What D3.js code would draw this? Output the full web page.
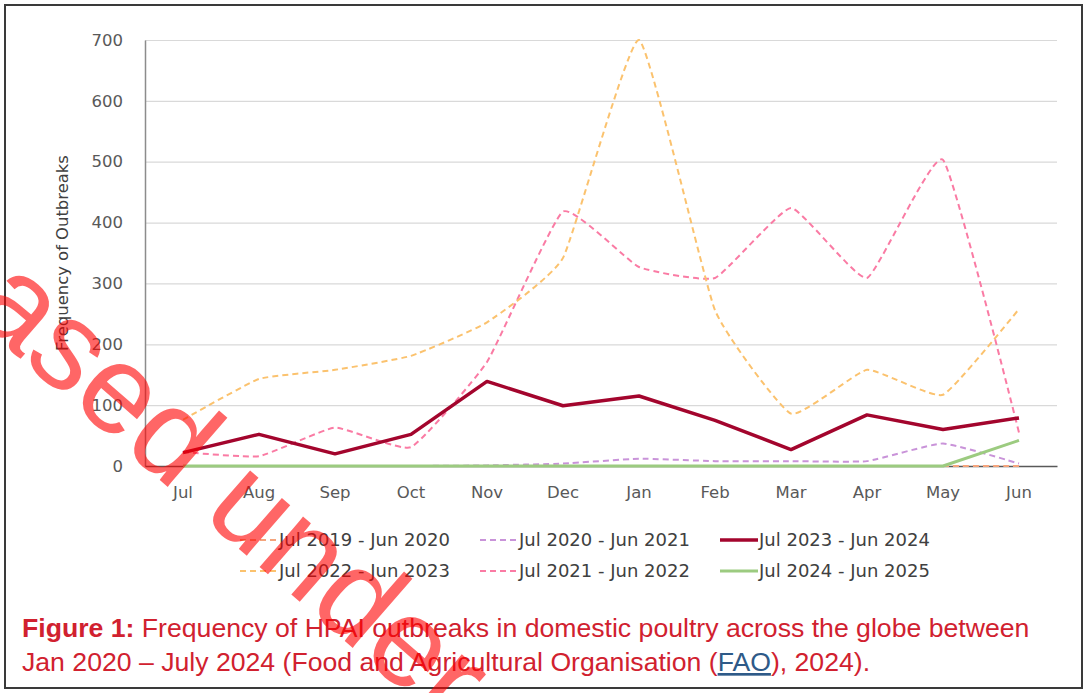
<!DOCTYPE html>
<html>
<head>
<meta charset="utf-8">
<script src="https://cdn.jsdelivr.net/npm/d3@7"></script>
<style>
  html, body { margin: 0; padding: 0; background: #fff; }
  svg { display: block; }
</style>
</head>
<body>
<svg id="chart" width="1086" height="693"></svg>
<script>
// ---------- data ----------
const months = ["Jul","Aug","Sep","Oct","Nov","Dec","Jan","Feb","Mar","Apr","May","Jun"];
const yTicks = [0,100,200,300,400,500,600,700];

const jul2019 = [0,0,0,0,0,0,0,0,0,0,0,0];
const jul2020 = [0,0,0,0,1,4,12,8,8,8,37,4];
const jul2021 = [23,16,63,31,171,418,327,309,424,309,503,55];
const jul2022 = [76,143,158,181,236,342,700,256,86,158,117,258];
const jul2023 = [22,52,20,52,139,99,115,75,27,84,60,79];
const jul2024 = [0,0,0,0,0,0,0,0,0,0,0,42];

const seriesNames = ["Jul 2019 - Jun 2020","Jul 2020 - Jun 2021","Jul 2021 - Jun 2022",
                     "Jul 2022 - Jun 2023","Jul 2023 - Jun 2024","Jul 2024 - Jun 2025"];

const yLabel = "Frequency of Outbreaks";
const captionBold = "Figure 1:";
const captionLine1 = " Frequency of HPAI outbreaks in domestic poultry across the globe between";
const captionLine2a = "Jan 2020 \u2013 July 2024 (Food and Agricultural Organisation (";
const captionLink = "FAO";
const captionLine2b = "), 2024).";
const watermark = "Released under the Official Information Act 1982";

(function(){
const styles = {
  "Jul 2019 - Jun 2020": {color:"#F4A47C", width:2, dash:"6,4", smooth:true},
  "Jul 2020 - Jun 2021": {color:"#C993D9", width:2, dash:"6,4", smooth:true},
  "Jul 2021 - Jun 2022": {color:"#FA7BA4", width:2, dash:"6,4", smooth:true},
  "Jul 2022 - Jun 2023": {color:"#FBC26E", width:2, dash:"6,4", smooth:true},
  "Jul 2023 - Jun 2024": {color:"#A3052D", width:3.5, dash:null, smooth:false},
  "Jul 2024 - Jun 2025": {color:"#9CCB80", width:3, dash:null, smooth:false}
};
const seriesValues = [jul2019, jul2020, jul2021, jul2022, jul2023, jul2024];
const series = seriesNames.map((n,i)=>({name:n, values:seriesValues[i]}));

const svg = d3.select("#chart");
const FONT = "'DejaVu Sans', 'Open Sans', sans-serif";

// frame
svg.append("rect").attr("x",5).attr("y",5).attr("width",1077).attr("height",683)
  .attr("fill","#fff").attr("stroke","#3a3a3a").attr("stroke-width",2);

// scales
const pLeft = 145, pRight = 1057, pTop = 40, pBottom = 466;
const x = d3.scaleBand().domain(months).range([pLeft,pRight]).paddingInner(0).paddingOuter(0);
const xc = m => x(m) + x.bandwidth()/2;
const y = d3.scaleLinear().domain([0,700]).range([pBottom, pTop]);

// gridlines
const grid = svg.append("g").attr("transform",`translate(${pLeft},0)`)
  .call(d3.axisLeft(y).tickValues(yTicks).tickSize(-(pRight-pLeft)).tickFormat(""));
grid.select(".domain").remove();
grid.selectAll("line").attr("stroke","#D9D9D9").attr("stroke-width",1.2);

// y axis
const yAxis = svg.append("g").attr("transform",`translate(${pLeft},0)`)
  .call(d3.axisLeft(y).tickValues(yTicks).tickSize(0).tickPadding(22));
yAxis.select(".domain").attr("stroke","#8c8c8c").attr("stroke-width",1.5);
yAxis.selectAll("text").attr("font-family",FONT).attr("font-size",16.5).attr("fill","#595959");

// x axis
const xAxis = svg.append("g").attr("transform",`translate(0,${pBottom})`)
  .call(d3.axisBottom(x).tickSize(0).tickPadding(20));
xAxis.select(".domain").attr("stroke","#595959").attr("stroke-width",1.5);
xAxis.selectAll("text").attr("font-family",FONT).attr("font-size",16.5).attr("fill","#595959");

// y label
const yl = svg.append("text").attr("transform","translate(68,253) rotate(-90)")
  .attr("text-anchor","middle").attr("font-family",FONT).attr("font-size",15)
  .attr("fill","#404040").text(yLabel);
function fit(t, w){ const l = t.node().getComputedTextLength(); const fs = +t.attr("font-size"); t.attr("font-size", fs*w/l); }
fit(yl, 196);

// lines
const drawOrder = ["Jul 2021 - Jun 2022","Jul 2022 - Jun 2023","Jul 2020 - Jun 2021",
                   "Jul 2019 - Jun 2020","Jul 2024 - Jun 2025","Jul 2023 - Jun 2024"];
drawOrder.forEach(name => {
  const s = series.find(d=>d.name===name);
  const st = styles[name];
  const line = d3.line()
    .x((d,i)=>xc(months[i]))
    .y(d=>y(d))
    .curve(st.smooth ? d3.curveCardinal.tension(0.6) : d3.curveLinear);
  svg.append("path").datum(s.values)
    .attr("d",line).attr("fill","none")
    .attr("stroke",st.color).attr("stroke-width",st.width)
    .attr("stroke-dasharray",st.dash)
    .attr("stroke-linejoin","round");
});

// legend
const legendItems = [
  {name:"Jul 2019 - Jun 2020", lx:240, ly:540},
  {name:"Jul 2020 - Jun 2021", lx:480, ly:540},
  {name:"Jul 2023 - Jun 2024", lx:720, ly:540},
  {name:"Jul 2022 - Jun 2023", lx:240, ly:571},
  {name:"Jul 2021 - Jun 2022", lx:480, ly:571},
  {name:"Jul 2024 - Jun 2025", lx:720, ly:571}
];
const lg = svg.append("g");
legendItems.forEach(it => {
  const st = styles[it.name];
  lg.append("line").attr("x1",it.lx).attr("x2",it.lx+38).attr("y1",it.ly).attr("y2",it.ly)
    .attr("stroke",st.color).attr("stroke-width",st.width)
    .attr("stroke-dasharray",st.dash);
  const t = lg.append("text").attr("x",it.lx+39).attr("y",it.ly).attr("dy","0.36em")
    .attr("font-family",FONT).attr("font-size",17).attr("fill","#404040").text(it.name);
  fit(t, 171);
});

// caption
const capColor = "#D1212F";
const cap1 = svg.append("text").attr("x",22).attr("y",637)
  .attr("font-family","'Liberation Sans', Arial, sans-serif").attr("font-size",22.5).attr("fill",capColor);
cap1.append("tspan").attr("font-weight","bold").text(captionBold);
cap1.append("tspan").text(captionLine1);
const cap2 = svg.append("text").attr("x",22).attr("y",671)
  .attr("font-family","'Liberation Sans', Arial, sans-serif").attr("font-size",22.5).attr("fill",capColor);
cap2.append("tspan").text(captionLine2a);
cap2.append("tspan").attr("fill","#2E5A88").attr("text-decoration","underline").text(captionLink);
cap2.append("tspan").text(captionLine2b);
fit(cap1, 1008);
cap2.attr("font-size", cap1.attr("font-size"));

// watermark
svg.append("text").attr("transform","translate(-228,143) rotate(41)")
  .attr("font-family","'Liberation Sans', Arial, sans-serif").attr("font-size",126)
  .attr("fill","#FF0000").attr("fill-opacity",0.6).text(watermark);
})();
</script>
</body>
</html>
